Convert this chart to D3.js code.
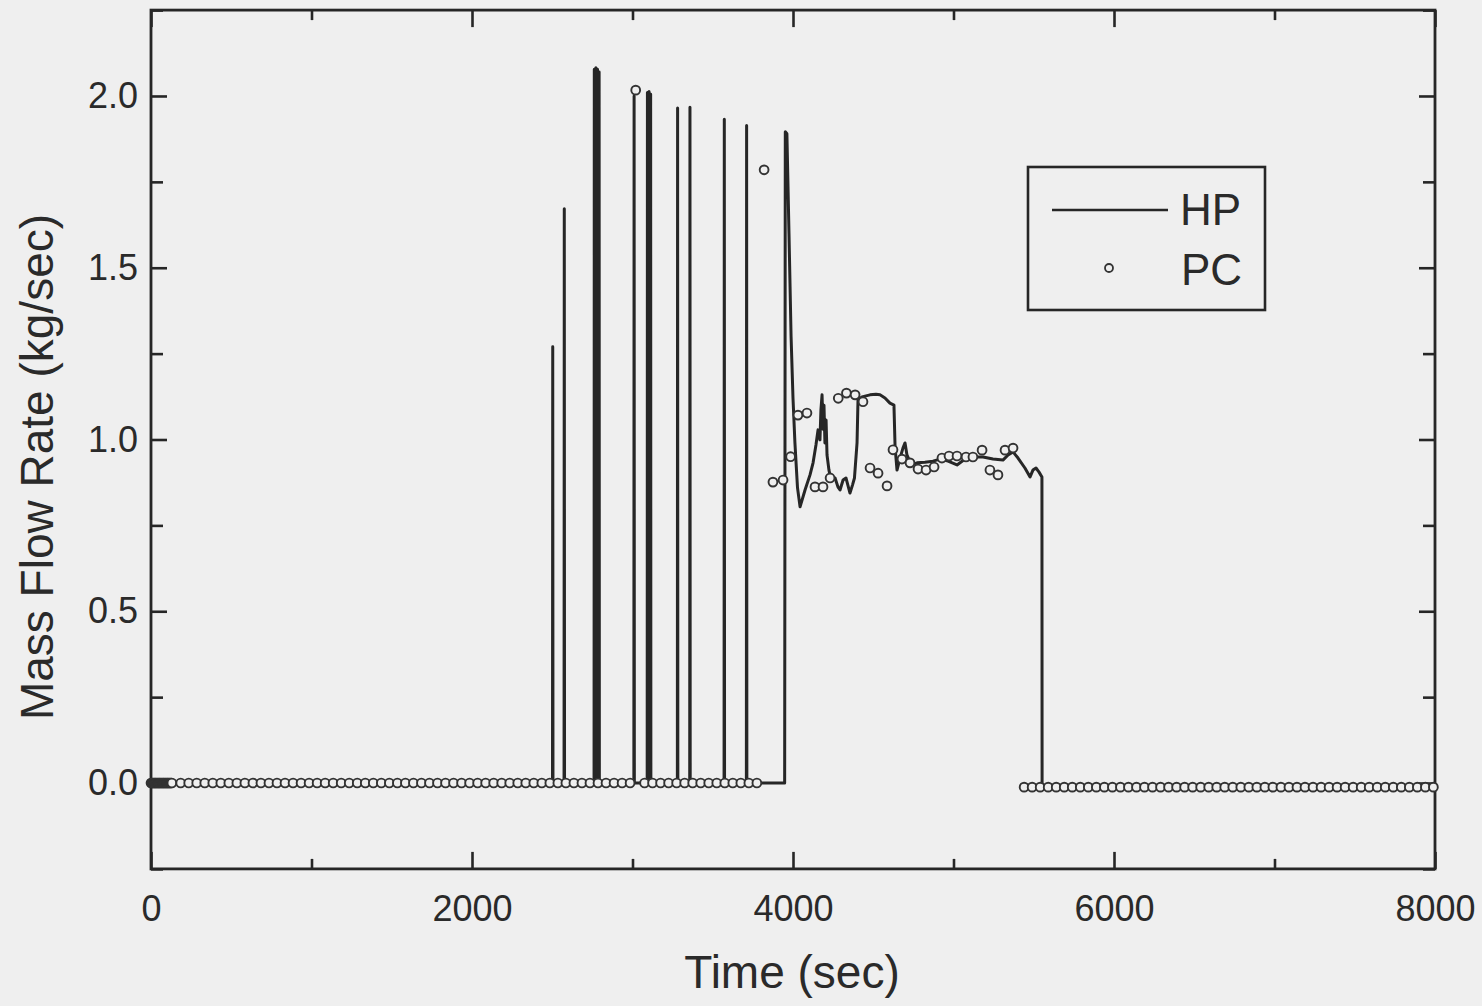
<!DOCTYPE html>
<html>
<head>
<meta charset="utf-8">
<script src="https://cdn.jsdelivr.net/npm/d3@7"></script>
<style>
  html, body { margin: 0; padding: 0; background: #efefef; }
  svg { display: block; }
  text { font-family: "Liberation Sans", Arial, sans-serif; fill: #2a2a2a; }
</style>
</head>
<body>
<svg id="chart" width="1482" height="1006"></svg>
<script>
// ---------------- DATA ----------------
const xTicksMajor = [0, 2000, 4000, 6000, 8000];
const xTicksMinor = [1000, 3000, 5000, 7000];
const yTicksMajor = [0.0, 0.5, 1.0, 1.5, 2.0];
const yTicksMinor = [-0.25, 0.25, 0.75, 1.25, 1.75, 2.25];
const seriesNames = ["HP", "PC"];

// HP: isolated flow spikes (time s, kg/s)
const hpSpikeTimes  = [2503, 2575, 2762, 2772, 2782, 2792, 3010, 3093, 3103, 3113, 3281, 3358, 3572, 3711];
const hpSpikeValues = [1.27, 1.672, 2.078, 2.082, 2.078, 2.07, 2.0, 2.01, 2.013, 2.005, 1.965, 1.967, 1.932, 1.914];

// HP: continuous period after ~3950 s
const hpTransTimes = [3948, 3952, 3962, 3975, 3988, 4000, 4012, 4028, 4044, 4075, 4106, 4125, 4143, 4156, 4168, 4174,
  4181, 4187, 4193, 4199, 4206, 4212, 4224, 4237, 4262, 4280, 4293, 4312, 4330, 4355, 4371, 4383, 4399, 4405, 4430,
  4455, 4480, 4517, 4542, 4573, 4604, 4629, 4636, 4648, 4667, 4685, 4698, 4710, 4729, 4754, 4773, 4822, 4872, 4916,
  4966, 5022, 5072, 5134, 5184, 5246, 5308, 5340, 5371, 5402, 5445, 5477, 5495, 5514, 5533, 5551, 5552, 8000];
const hpTransValues = [0, 1.896, 1.89, 1.6, 1.3, 1.12, 0.99, 0.86, 0.804, 0.853, 0.897, 0.932, 0.984, 1.028, 0.999, 1.086,
  1.13, 1.03, 1.10, 0.99, 1.057, 0.955, 0.911, 0.882, 0.888, 0.862, 0.853, 0.882, 0.888, 0.844, 0.868, 0.888, 0.99, 1.115, 1.124,
  1.127, 1.13, 1.132, 1.13, 1.121, 1.106, 1.10, 0.978, 0.911, 0.946, 0.975, 0.99, 0.955, 0.934, 0.929, 0.932, 0.934, 0.937, 0.943,
  0.937, 0.926, 0.943, 0.949, 0.949, 0.943, 0.94, 0.955, 0.964, 0.946, 0.917, 0.891, 0.911, 0.917, 0.905, 0.891, -0.01, -0.01];

// PC: dense early samples (value 0.0)
const pcEarlyTimes = [0, 5, 10, 15, 20, 25, 30, 35, 40, 45, 50, 55, 60, 65, 70, 75, 80, 85, 90, 95, 100, 105, 110, 115, 120, 125, 130];
// PC: regular samples at 0.0
const pcZeroTimes = [185, 235, 285, 335, 385, 435, 485, 535, 585, 635, 685, 735, 785, 835, 885, 935, 985, 1035, 1085, 1135,
  1185, 1235, 1285, 1335, 1385, 1435, 1485, 1535, 1585, 1635, 1685, 1735, 1785, 1835, 1885, 1935, 1985, 2035, 2085, 2135,
  2185, 2235, 2285, 2335, 2385, 2435, 2485, 2535, 2585, 2635, 2685, 2735, 2785, 2835, 2885, 2935, 2985,
  3075, 3125, 3175, 3225, 3275, 3325, 3375, 3425, 3475, 3525, 3575, 3625, 3675, 3725, 3775];
// PC: non-zero samples
const pcFlowTimes  = [3020, 3820, 3875, 3938, 3985, 4031, 4087, 4137, 4187, 4231, 4282, 4333, 4387, 4436, 4480, 4530, 4586,
  4623, 4679, 4729, 4779, 4829, 4879, 4928, 4972, 5022, 5078, 5121, 5178, 5227, 5277, 5321, 5371];
const pcFlowValues = [2.017, 1.785, 0.876, 0.882, 0.95, 1.071, 1.077, 0.862, 0.862, 0.888, 1.12, 1.135, 1.13, 1.11, 0.917, 0.902, 0.865,
  0.97, 0.943, 0.932, 0.914, 0.911, 0.92, 0.946, 0.952, 0.952, 0.949, 0.949, 0.969, 0.911, 0.897, 0.969, 0.975];
// PC: late samples after flow stops
const pcTailTimes = [5440, 5490, 5540, 5590, 5640, 5690, 5740, 5790, 5840, 5890, 5940, 5990, 6040, 6090, 6140, 6190, 6240,
  6290, 6340, 6390, 6440, 6490, 6540, 6590, 6640, 6690, 6740, 6790, 6840, 6890, 6940, 6990, 7040, 7090, 7140, 7190, 7240,
  7290, 7340, 7390, 7440, 7490, 7540, 7590, 7640, 7690, 7740, 7790, 7840, 7890, 7940, 7990];
const pcTailValue = -0.012;

// ---------------- CHART ----------------
const svg = d3.select("#chart");
const ink = "#262626";
const bg = "#efefef";

const x = d3.scaleLinear().domain([0, 8000]).range([151, 1435]);
const y = d3.scaleLinear().domain([-0.25, 2.25]).range([868.9, 10.1]);
const [x0, x1] = x.range();
const yB = y(-0.25), yT = y(2.25);

function styleAxis(g) {
  g.select(".domain").remove();
  g.selectAll(".tick line").attr("stroke", ink).attr("stroke-width", 2.6);
  g.selectAll(".tick text").style("font-size", "36px").attr("fill", "#303030");
}

// bottom
svg.append("g").attr("transform", `translate(0,${yB})`)
  .call(d3.axisBottom(x).tickValues(xTicksMajor).tickSizeInner(-17).tickSizeOuter(0).tickPadding(27).tickFormat(d3.format("d")))
  .call(styleAxis);
svg.append("g").attr("transform", `translate(0,${yB})`)
  .call(d3.axisBottom(x).tickValues(xTicksMinor).tickSizeInner(-10).tickSizeOuter(0).tickFormat(""))
  .call(styleAxis);
// top
svg.append("g").attr("transform", `translate(0,${yT})`)
  .call(d3.axisTop(x).tickValues(xTicksMajor).tickSizeInner(-17).tickSizeOuter(0).tickFormat(""))
  .call(styleAxis);
svg.append("g").attr("transform", `translate(0,${yT})`)
  .call(d3.axisTop(x).tickValues(xTicksMinor).tickSizeInner(-10).tickSizeOuter(0).tickFormat(""))
  .call(styleAxis);
// left
svg.append("g").attr("transform", `translate(${x0},0)`)
  .call(d3.axisLeft(y).tickValues(yTicksMajor).tickSizeInner(-16).tickSizeOuter(0).tickPadding(13).tickFormat(d3.format(".1f")))
  .call(styleAxis);
svg.append("g").attr("transform", `translate(${x0},0)`)
  .call(d3.axisLeft(y).tickValues(yTicksMinor).tickSizeInner(-12).tickSizeOuter(0).tickFormat(""))
  .call(styleAxis);
// right
svg.append("g").attr("transform", `translate(${x1},0)`)
  .call(d3.axisRight(y).tickValues(yTicksMajor).tickSizeInner(-16).tickSizeOuter(0).tickFormat(""))
  .call(styleAxis);
svg.append("g").attr("transform", `translate(${x1},0)`)
  .call(d3.axisRight(y).tickValues(yTicksMinor).tickSizeInner(-12).tickSizeOuter(0).tickFormat(""))
  .call(styleAxis);

// frame
svg.append("rect")
  .attr("x", x0).attr("y", yT).attr("width", x1 - x0).attr("height", yB - yT)
  .attr("fill", "none").attr("stroke", ink).attr("stroke-width", 2.8);

// HP line data
const hpPoints = [[0, 0]];
hpSpikeTimes.forEach((t, i) => {
  hpPoints.push([t - 1.5, 0], [t, hpSpikeValues[i]], [t + 1.5, 0]);
});
hpTransTimes.forEach((t, i) => hpPoints.push([t, hpTransValues[i]]));

const line = d3.line().x(d => x(d[0])).y(d => y(d[1]));
svg.append("path")
  .datum(hpPoints)
  .attr("d", line)
  .attr("fill", "none")
  .attr("stroke", ink)
  .attr("stroke-width", 3)
  .attr("stroke-linejoin", "round");

// PC points
const pcPoints = []
  .concat(pcEarlyTimes.map(t => [t, 0]))
  .concat(pcZeroTimes.filter(t => t < 3000).map(t => [t, 0]))
  .concat([[pcFlowTimes[0], pcFlowValues[0]]])
  .concat(pcZeroTimes.filter(t => t > 3000).map(t => [t, 0]))
  .concat(pcFlowTimes.slice(1).map((t, i) => [t, pcFlowValues[i + 1]]))
  .concat(pcTailTimes.map(t => [t, pcTailValue]));

svg.append("g").selectAll("circle")
  .data(pcPoints)
  .join("circle")
  .attr("cx", d => x(d[0]))
  .attr("cy", d => y(d[1]))
  .attr("r", 4.4)
  .attr("fill", bg)
  .attr("stroke", "#333")
  .attr("stroke-width", 1.9);

// axis titles
svg.append("text")
  .attr("x", 792).attr("y", 988)
  .attr("text-anchor", "middle")
  .style("font-size", "46px")
  .text("Time (sec)");
svg.append("text")
  .attr("transform", "translate(53,467) rotate(-90)")
  .attr("text-anchor", "middle")
  .style("font-size", "46px")
  .text("Mass Flow Rate (kg/sec)");

// legend
const lg = svg.append("g");
lg.append("rect")
  .attr("x", 1028).attr("y", 167).attr("width", 237).attr("height", 143)
  .attr("fill", "none").attr("stroke", ink).attr("stroke-width", 2.6);
lg.append("line")
  .attr("x1", 1052).attr("x2", 1168).attr("y1", 210).attr("y2", 210)
  .attr("stroke", ink).attr("stroke-width", 2.6);
lg.append("text").attr("x", 1180).attr("y", 225).style("font-size", "44px").text(seriesNames[0]);
lg.append("circle").attr("cx", 1109).attr("cy", 268).attr("r", 4)
  .attr("fill", bg).attr("stroke", "#333").attr("stroke-width", 1.8);
lg.append("text").attr("x", 1181).attr("y", 285).style("font-size", "44px").text(seriesNames[1]);
</script>
</body>
</html>
